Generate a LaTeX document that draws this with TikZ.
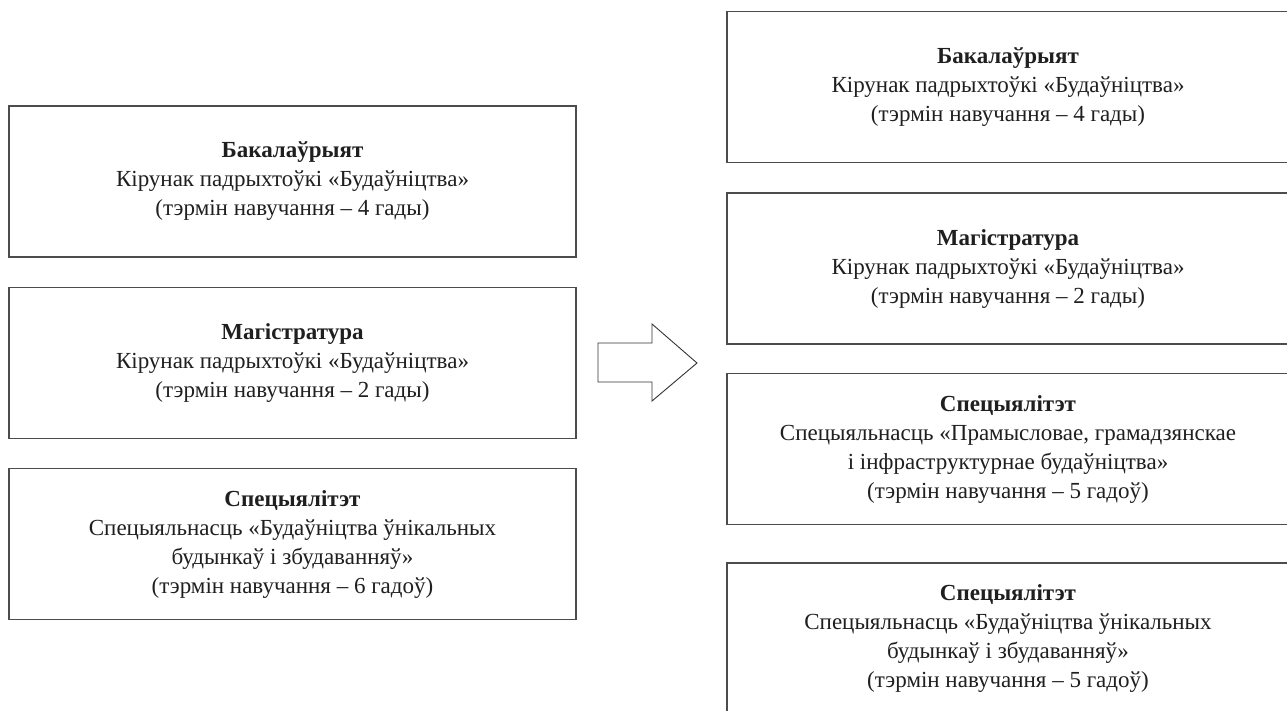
\documentclass[tikz,border=0pt]{standalone}
\usepackage{fontspec}
\setmainfont{Liberation Serif}
\begin{document}
\begin{tikzpicture}[x=1pt,y=-1pt,
  box/.style={draw=black!70, line width=1.1pt, rectangle, inner sep=0pt,
    align=center, text=black!88, font=\fontsize{23}{29}\selectfont},
  lbox/.style={box, minimum width=567pt, minimum height=151pt},
  rbox/.style={box, minimum width=562pt, minimum height=151pt}]
\useasboundingbox (0,0) rectangle (1287,710);
\clip (0,0) rectangle (1287,710);
\fill[white] (0,0) rectangle (1287,710);

\node[lbox] (l1) at (292.5,181.5) {\textbf{Бакалаўрыят}\\Кірунак падрыхтоўкі «Будаўніцтва»\\(тэрмін навучання – 4 гады)};
\node[lbox] (l2) at (292.5,363) {\textbf{Магістратура}\\Кірунак падрыхтоўкі «Будаўніцтва»\\(тэрмін навучання – 2 гады)};
\node[lbox] (l3) at (292.5,544) {\textbf{Спецыялітэт}\\Спецыяльнасць «Будаўніцтва ўнікальных\\будынкаў і збудаванняў»\\(тэрмін навучання – 6 гадоў)};

\node[rbox] (r1) at (1008,87) {\textbf{Бакалаўрыят}\\Кірунак падрыхтоўкі «Будаўніцтва»\\(тэрмін навучання – 4 гады)};
\node[rbox] (r2) at (1008,268.5) {\textbf{Магістратура}\\Кірунак падрыхтоўкі «Будаўніцтва»\\(тэрмін навучання – 2 гады)};
\node[rbox] (r3) at (1008,449) {\textbf{Спецыялітэт}\\Спецыяльнасць «Прамысловае, грамадзянскае\\і інфраструктурнае будаўніцтва»\\(тэрмін навучання – 5 гадоў)};
\node[rbox] (r4) at (1008,638.5) {\textbf{Спецыялітэт}\\Спецыяльнасць «Будаўніцтва ўнікальных\\будынкаў і збудаванняў»\\(тэрмін навучання – 5 гадоў)};

\draw[black!80, line width=0.9pt, line join=miter]
  (598,343) -- (652,343) -- (652,324) -- (697,363) -- (652,401) -- (652,382) -- (598,382) -- cycle;
\end{tikzpicture}
\end{document}
